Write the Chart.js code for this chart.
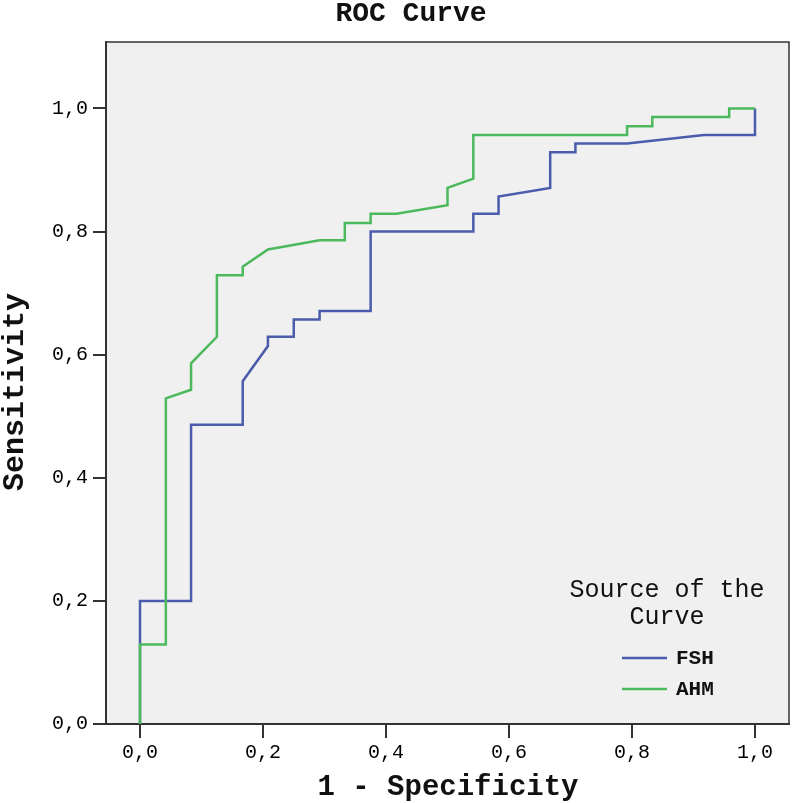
<!DOCTYPE html>
<html lang="en">
<head>
  <meta charset="UTF-8" />
  <title>ROC Curve</title>
  <script src="https://cdn.jsdelivr.net/npm/chart.js@4.4.0/dist/chart.umd.min.js"></script>
  <style>
    html,body{margin:0;padding:0;background:#fff}
    #wrap{width:793px;height:803px;position:relative}
  </style>
</head>
<body>
<div id="wrap"><canvas id="roc" width="793" height="803"></canvas></div>
<script>
/* ---- data ---- */
const seriesNames = ['FSH', 'AHM'];
const fshFpr = [0, 0, 0.083, 0.083, 0.167, 0.167, 0.208, 0.208, 0.25, 0.25, 0.292, 0.292, 0.375,
                0.375, 0.542, 0.542, 0.583, 0.583, 0.667, 0.667, 0.708, 0.708, 0.792, 0.917, 1, 1];
const fshTpr = [0, 0.2, 0.2, 0.486, 0.486, 0.557, 0.614, 0.629, 0.629, 0.657, 0.657, 0.671, 0.671,
                0.8, 0.8, 0.829, 0.829, 0.857, 0.871, 0.929, 0.929, 0.943, 0.943, 0.957, 0.957, 1];
const ahmFpr = [0, 0, 0.042, 0.042, 0.083, 0.083, 0.125, 0.125, 0.167, 0.167, 0.208, 0.292, 0.333, 0.333,
                0.375, 0.375, 0.417, 0.5, 0.5, 0.542, 0.542, 0.792, 0.792, 0.833, 0.833, 0.958, 0.958, 1];
const ahmTpr = [0, 0.129, 0.129, 0.529, 0.543, 0.586, 0.629, 0.729, 0.729, 0.743, 0.771, 0.786, 0.786, 0.814,
                0.814, 0.829, 0.829, 0.843, 0.871, 0.886, 0.957, 0.957, 0.971, 0.971, 0.986, 0.986, 1, 1];
const xTicks = [0, 0.2, 0.4, 0.6, 0.8, 1.0];
const yTicks = [0, 0.2, 0.4, 0.6, 0.8, 1.0];
const colors = ['#4a5cab', '#4cba5c'];

const MONO = '"Liberation Mono","DejaVu Sans Mono",monospace';
const toPts = (xs, ys) => xs.map((x, i) => ({x, y: ys[i]}));
const fmt = v => (+v).toFixed(1).replace('.', ',');

/* ---- background, frame, titles, legend ---- */
const decor = {
  id: 'decor',
  beforeDraw(c) {
    const ctx = c.ctx, a = c.chartArea;
    ctx.save();
    ctx.fillStyle = '#fff'; ctx.fillRect(0, 0, c.width, c.height);
    ctx.fillStyle = '#f0f0f0'; ctx.fillRect(a.left, a.top, a.right - a.left, a.bottom - a.top);
    ctx.restore();
  },
  afterDraw(c) {
    const ctx = c.ctx, a = c.chartArea;
    ctx.save();
    // top + right edge of the plot box
    ctx.strokeStyle = '#333'; ctx.lineWidth = 1.5;
    ctx.beginPath(); ctx.moveTo(a.left, a.top); ctx.lineTo(a.right, a.top); ctx.lineTo(a.right, a.bottom); ctx.stroke();

    ctx.fillStyle = '#111';
    ctx.textAlign = 'center';
    ctx.textBaseline = 'alphabetic';
    ctx.font = 'bold 28px ' + MONO;
    ctx.fillText('ROC Curve', 411, 21);
    ctx.textBaseline = 'middle';
    ctx.font = 'bold 29px ' + MONO;
    ctx.fillText('1 - Specificity', 448, 788);
    ctx.save();
    ctx.translate(15, 392); ctx.rotate(-Math.PI / 2);
    ctx.font = 'bold 30px ' + MONO;
    ctx.fillText('Sensitivity', 0, 0);
    ctx.restore();

    // legend inside the plot
    ctx.font = '25px ' + MONO;
    ctx.fillText('Source of the', 667, 590);
    ctx.fillText('Curve', 667, 617);
    ctx.textAlign = 'left';
    ctx.font = 'bold 21px ' + MONO;
    c.data.datasets.forEach((d, i) => {
      const y = 658 + i * 31;
      ctx.strokeStyle = d.borderColor; ctx.lineWidth = 2.5;
      ctx.beginPath(); ctx.moveTo(622, y); ctx.lineTo(667, y); ctx.stroke();
      ctx.fillText(d.label, 676, y + 1);
    });
    ctx.restore();
  }
};

const axisCommon = {
  type: 'linear',
  grid: {drawOnChartArea: false, drawTicks: true, color: '#333', lineWidth: 2},
  border: {display: true, color: '#333', width: 2},
  ticks: {font: {family: MONO, size: 20}, color: '#000', callback: fmt, maxRotation: 0, autoSkip: false}
};

new Chart(document.getElementById('roc'), {
  type: 'line',
  data: {
    datasets: seriesNames.map((name, i) => ({
      label: name,
      data: i === 0 ? toPts(fshFpr, fshTpr) : toPts(ahmFpr, ahmTpr),
      borderColor: colors[i],
      borderWidth: 2.5,
      pointRadius: 0,
      tension: 0,
      fill: false,
      order: i === 0 ? 1 : 0
    }))
  },
  options: {
    responsive: false,
    animation: false,
    layout: {padding: {top: 42, right: 4, left: 0, bottom: 0}},
    plugins: {legend: {display: false}, title: {display: false}, tooltip: {enabled: false}},
    scales: {
      x: {
        ...axisCommon,
        min: -0.0553, max: 1.0553,
        grid: {...axisCommon.grid, tickLength: 14},
        ticks: {...axisCommon.ticks, padding: 3},
        afterBuildTicks: s => { s.ticks = xTicks.map(v => ({value: v})); },
        afterFit: s => { s.height = 79; }
      },
      y: {
        ...axisCommon,
        min: 0, max: 1.108,
        grid: {...axisCommon.grid, tickLength: 13},
        ticks: {...axisCommon.ticks, padding: 5},
        afterBuildTicks: s => { s.ticks = yTicks.map(v => ({value: v})); },
        afterFit: s => { s.width = 106; }
      }
    }
  },
  plugins: [decor]
});
</script>
</body>
</html>
